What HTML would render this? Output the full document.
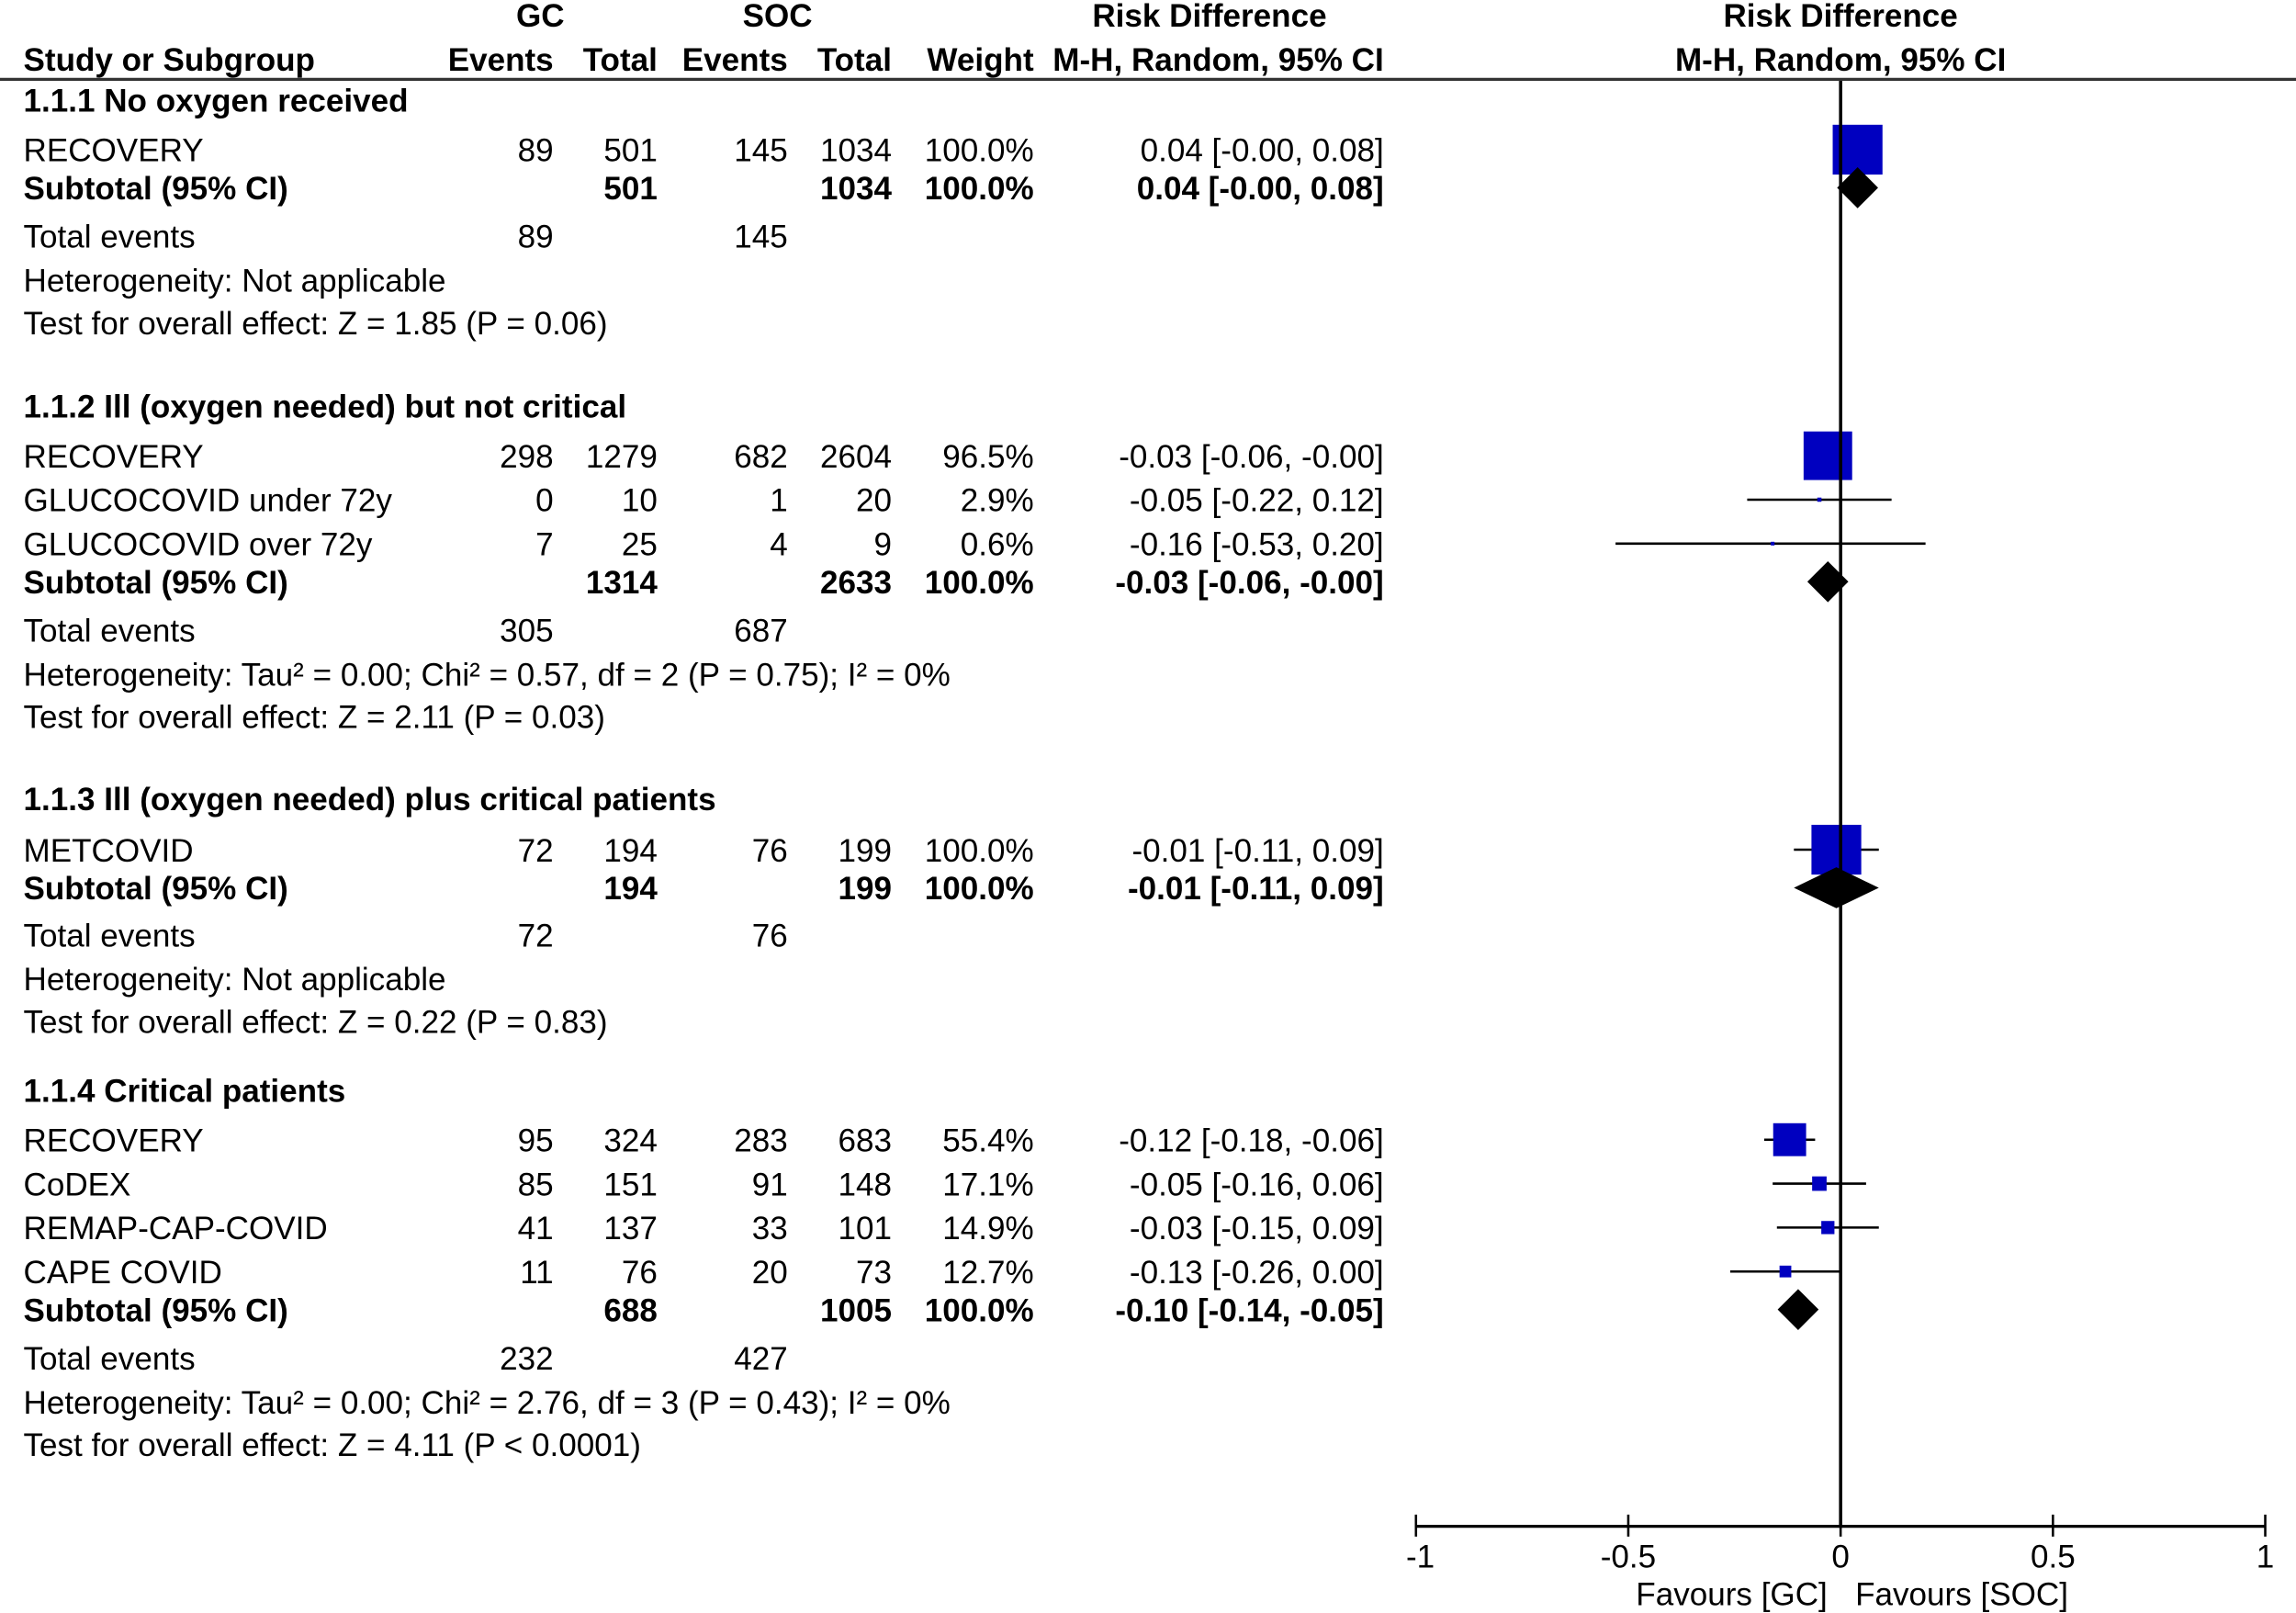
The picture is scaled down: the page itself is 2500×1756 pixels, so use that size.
<!DOCTYPE html>
<html><head><meta charset="utf-8"><style>
html,body{margin:0;padding:0;background:#fff}
svg{display:block}
text{font-family:"Liberation Sans",Arial,sans-serif;font-size:22px;fill:#000}
.b{font-weight:bold}
</style></head><body>
<svg id="plot" width="2500" height="1756" viewBox="0 0 1568 1101" xmlns="http://www.w3.org/2000/svg">
<g id="hdr">
<text x="369" y="18" text-anchor="middle" class="b">GC</text>
<text x="531" y="18" text-anchor="middle" class="b">SOC</text>
<text x="826" y="18" text-anchor="middle" class="b">Risk Difference</text>
<text x="1257" y="18" text-anchor="middle" class="b">Risk Difference</text>
<text x="16" y="48" class="b">Study or Subgroup</text>
<text x="378" y="48" text-anchor="end" class="b">Events</text>
<text x="449" y="48" text-anchor="end" class="b">Total</text>
<text x="538" y="48" text-anchor="end" class="b">Events</text>
<text x="609" y="48" text-anchor="end" class="b">Total</text>
<text x="706" y="48" text-anchor="end" class="b">Weight</text>
<text x="945" y="48" text-anchor="end" class="b">M-H, Random, 95% CI</text>
<text x="1257" y="48" text-anchor="middle" class="b">M-H, Random, 95% CI</text>
</g>
<line x1="0" y1="54" x2="1568" y2="54" stroke="#333" stroke-width="2"/>
<g id="rows"></g>
<g id="marks"></g>
<g id="axis"></g>
</svg>
<script>
const NS="http://www.w3.org/2000/svg";
// study rows
const studyNames=["RECOVERY","RECOVERY","GLUCOCOVID under 72y","GLUCOCOVID over 72y","METCOVID","RECOVERY","CoDEX","REMAP-CAP-COVID","CAPE COVID"];
const studyY=[102,311,341,371,580,778,808,838,868];
const gcEvents=[89,298,0,7,72,95,85,41,11];
const gcTotal=[501,1279,10,25,194,324,151,137,76];
const socEvents=[145,682,1,4,76,283,91,33,20];
const socTotal=[1034,2604,20,9,199,683,148,101,73];
const weights=[100.0,96.5,2.9,0.6,100.0,55.4,17.1,14.9,12.7];
const rd=[0.04,-0.03,-0.05,-0.16,-0.01,-0.12,-0.05,-0.03,-0.13];
const lo=[-0.00,-0.06,-0.22,-0.53,-0.11,-0.18,-0.16,-0.15,-0.26];
const hi=[0.08,-0.00,0.12,0.20,0.09,-0.06,0.06,0.09,0.00];
// subtotals
const subY=[128,397,606,894];
const subGc=[501,1314,194,688];
const subSoc=[1034,2633,199,1005];
const subRd=[0.04,-0.03,-0.01,-0.10];
const subLo=[-0.00,-0.06,-0.11,-0.14];
const subHi=[0.08,-0.00,0.09,-0.05];
const negZero=[false,true,false,false];
// group titles and text
const groupTitles=["1.1.1 No oxygen received","1.1.2 Ill (oxygen needed) but not critical","1.1.3 Ill (oxygen needed) plus critical patients","1.1.4 Critical patients"];
const groupTitleY=[76,285,553,752];
const totGc=[89,305,72,232];
const totSoc=[145,687,76,427];
const totY=[161,430,638,927];
const hetText=["Heterogeneity: Not applicable","Heterogeneity: Tau\u00b2 = 0.00; Chi\u00b2 = 0.57, df = 2 (P = 0.75); I\u00b2 = 0%","Heterogeneity: Not applicable","Heterogeneity: Tau\u00b2 = 0.00; Chi\u00b2 = 2.76, df = 3 (P = 0.43); I\u00b2 = 0%"];
const testText=["Test for overall effect: Z = 1.85 (P = 0.06)","Test for overall effect: Z = 2.11 (P = 0.03)","Test for overall effect: Z = 0.22 (P = 0.83)","Test for overall effect: Z = 4.11 (P < 0.0001)"];
const ticks=[-1,-0.5,0,0.5,1];
const tickLabels=["-1","-0.5","0","0.5","1"];

const X0=1257, SC=290;
function xs(v){return X0+v*SC;}
const rows=document.getElementById('rows'), marks=document.getElementById('marks'), axis=document.getElementById('axis');
function t(parent,x,y,s,anchor,bold,name){
  const e=document.createElementNS(NS,'text');
  e.setAttribute('x',x);e.setAttribute('y',y);
  if(anchor)e.setAttribute('text-anchor',anchor);
  if(bold)e.setAttribute('class','b');
  e.textContent=s;
  
  
  parent.appendChild(e);return e;
}
for(let i=0;i<studyNames.length;i++){
  const y=studyY[i]+8;
  t(rows,16,y,studyNames[i],null,false,'study-name');
  t(rows,378,y,gcEvents[i],'end',false,'gc-events');
  t(rows,449,y,gcTotal[i],'end',false,'gc-total');
  t(rows,538,y,socEvents[i],'end',false,'soc-events');
  t(rows,609,y,socTotal[i],'end',false,'soc-total');
  t(rows,706,y,weights[i].toFixed(1)+"%",'end',false,'weight');
  const hs=(hi[i]===0&&rd[i]<0&&hi[i]!==0.00)?"-0.00":(hi[i]===0&&i!==8?"-0.00":hi[i].toFixed(2));
  const ls=(lo[i]===0)?"-0.00":lo[i].toFixed(2);
  t(rows,945,y,rd[i].toFixed(2)+" ["+ls+", "+hs+"]",'end',false,'risk-difference-ci');
  const ln=document.createElementNS(NS,'line');
  ln.setAttribute('x1',xs(lo[i]));ln.setAttribute('x2',xs(hi[i]));
  ln.setAttribute('y1',studyY[i]);ln.setAttribute('y2',studyY[i]);
  ln.setAttribute('stroke','#000');ln.setAttribute('stroke-width','1.6');
  
  
  marks.appendChild(ln);
  const s=Math.max(2.5,34*Math.pow(weights[i]/100,0.7));
  const r=document.createElementNS(NS,'rect');
  r.setAttribute('x',xs(rd[i])-s/2);r.setAttribute('y',studyY[i]-s/2);
  r.setAttribute('width',s);r.setAttribute('height',s);r.setAttribute('fill','#0000c0');
  
  
  marks.appendChild(r);
}
for(let g=0;g<4;g++){
  t(rows,16,groupTitleY[g],groupTitles[g],null,true,'subgroup-title');
  const y=subY[g]+8;
  t(rows,16,y,"Subtotal (95% CI)",null,true,'subtotal-label');
  t(rows,449,y,subGc[g],'end',true,'subtotal-gc-total');
  t(rows,609,y,subSoc[g],'end',true,'subtotal-soc-total');
  t(rows,706,y,"100.0%",'end',true,'subtotal-weight');
  const hs=(subHi[g]===0&&negZero[g])?"-0.00":subHi[g].toFixed(2);
  const ls=(subLo[g]===0)?"-0.00":subLo[g].toFixed(2);
  t(rows,945,y,subRd[g].toFixed(2)+" ["+ls+", "+hs+"]",'end',true,'subtotal-ci');
  t(rows,16,totY[g]+8,"Total events",null,false,'total-events-label');
  t(rows,378,totY[g]+8,totGc[g],'end',false,'total-events-gc');
  t(rows,538,totY[g]+8,totSoc[g],'end',false,'total-events-soc');
  t(rows,16,totY[g]+38,hetText[g],null,false,'heterogeneity-text');
  t(rows,16,totY[g]+67,testText[g],null,false,'overall-effect-text');
  const c=xs(subRd[g]);
  const hw=Math.max((xs(subHi[g])-xs(subLo[g]))/2,14), hh=14;
  const p=document.createElementNS(NS,'polygon');
  p.setAttribute('points',(c-hw)+","+subY[g]+" "+c+","+(subY[g]-hh)+" "+(c+hw)+","+subY[g]+" "+c+","+(subY[g]+hh));
  p.setAttribute('fill','#000');
  
  
  marks.appendChild(p);
}
function L(x1,y1,x2,y2,w,name){const e=document.createElementNS(NS,'line');
e.setAttribute('x1',x1);e.setAttribute('y1',y1);e.setAttribute('x2',x2);e.setAttribute('y2',y2);
e.setAttribute('stroke','#000');e.setAttribute('stroke-width',w);


axis.appendChild(e);}
L(X0,55,X0,1043,2.2,'zero-line');
L(xs(-1),1042,xs(1),1042,2,'x-axis-line');
ticks.forEach((v,i)=>{L(xs(v),1034,xs(v),1049,1.6,'x-tick');
  t(axis,xs(v)+(i===0?3:0),1070,tickLabels[i],'middle',false,'x-tick-label');});
t(axis,1248,1096,"Favours [GC]",'end',false,'favours-gc-label');
t(axis,1267,1096,"Favours [SOC]",null,false,'favours-soc-label');
</script>
</body></html>
